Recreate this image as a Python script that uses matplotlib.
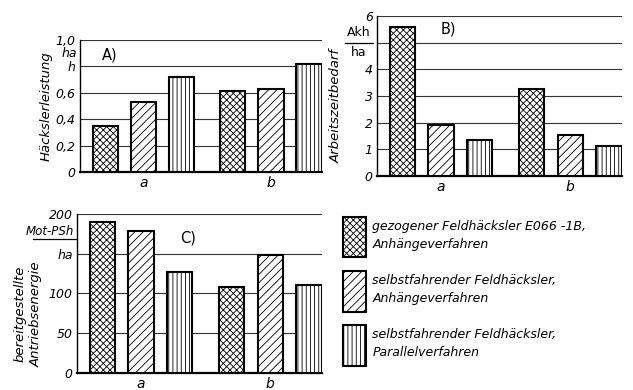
import matplotlib
matplotlib.use("Agg")
import matplotlib.pyplot as plt
import matplotlib.transforms as mtransforms
from matplotlib.lines import Line2D
from matplotlib.patches import Patch

plt.rcParams['font.family'] = ['DejaVu Sans']
plt.rcParams['font.style'] = 'italic'
plt.rcParams['font.size'] = 9
plt.rcParams['hatch.linewidth'] = 0.6

# data (rows = series, columns = categories a, b)
categories = ['a', 'b']
series_labels = ['gezogener Feldhäcksler E066 -1B,\nAnhängeverfahren',
                 'selbstfahrender Feldhäcksler,\nAnhängeverfahren',
                 'selbstfahrender Feldhäcksler,\nParallelverfahren']
hatches = ['xxxxx', '////', '||||']

leistung = [[0.35, 0.61], [0.53, 0.63], [0.72, 0.82]]       # ha/h
zeitbedarf = [[5.58, 3.26], [1.91, 1.54], [1.35, 1.12]]     # Akh/ha
energie = [[190, 108], [179, 149], [127, 111]]              # Mot-PSh/ha

ticks_a = [0, 0.2, 0.4, 0.6, 0.8, 1.0]
ticklabels_a = ['0', '0,2', '0,4', '0,6', 'h', '1,0']
ticks_b = [0, 1, 2, 3, 4, 5, 6]
ticklabels_b = ['0', '1', '2', '3', '4', '', '6']
ticks_c = [0, 50, 100, 150, 200]
ticklabels_c = ['0', '50', '100', 'ha', '200']

group_step = 3.35
bar_w = 0.66

fig = plt.figure(figsize=(6.33, 3.9), dpi=100)
axA = fig.add_axes([0.1264, 0.559, 0.3823, 0.3385])
axB = fig.add_axes([0.5956, 0.5487, 0.387, 0.410])
axC = fig.add_axes([0.1216, 0.0436, 0.387, 0.4077])


def draw_panel(ax, values, ticks, ticklabels, ymax, title, tx, ty):
    for i, row in enumerate(values):
        xs = [g * group_step + i for g in range(len(categories))]
        ax.bar(xs, row, width=bar_w, facecolor='white', edgecolor='black',
               linewidth=1.5, hatch=hatches[i], zorder=3)
    last = (len(categories) - 1) * group_step + len(values) - 1
    ax.set_xlim(-0.66, last + bar_w / 2 + 0.01)
    ax.set_ylim(0, ymax)
    ax.set_yticks(ticks)
    ax.set_yticklabels(ticklabels)
    ax.set_xticks([g * group_step + 1 for g in range(len(categories))])
    ax.set_xticklabels(categories, fontsize=10)
    ax.tick_params(length=0, pad=3)
    ax.tick_params(axis='x', pad=3)
    ax.yaxis.grid(True, color='#333333', linewidth=0.8, zorder=0)
    ax.set_axisbelow(True)
    for s in ['top', 'right']:
        ax.spines[s].set_visible(False)
    ax.spines['left'].set_linewidth(1.0)
    ax.spines['bottom'].set_linewidth(1.6)
    ax.text(tx, ty, title, transform=ax.transAxes, fontsize=10.5, fontstyle='normal')


draw_panel(axA, leistung, ticks_a, ticklabels_a, 1.0, 'A)', 0.09, 0.85)
draw_panel(axB, zeitbedarf, ticks_b, ticklabels_b, 6.0, 'B)', 0.26, 0.89)
draw_panel(axC, energie, ticks_c, ticklabels_c, 200, 'C)', 0.42, 0.82)

# axis titles
axA.set_ylabel('Häckslerleistung', fontsize=9.5)
axA.yaxis.set_label_coords(-0.115, 0.5)
axB.set_ylabel('Arbeitszeitbedarf', fontsize=9.5)
axB.yaxis.set_label_coords(-0.14, 0.44)
axC.set_ylabel('bereitgestellte\nAntriebsenergie', fontsize=9.5, linespacing=1.3)
axC.yaxis.set_label_coords(-0.14, 0.37)

# units
trA = mtransforms.blended_transform_factory(axA.transAxes, axA.transData)
axA.text(-0.012, 0.895, 'ha', transform=trA, ha='right', va='center')

trB = mtransforms.blended_transform_factory(axB.transAxes, axB.transData)
axB.text(-0.073, 5.38, 'Akh', transform=trB, ha='center', va='center', fontstyle='normal')
axB.text(-0.073, 4.62, 'ha', transform=trB, ha='center', va='center', fontstyle='normal')
axB.add_line(Line2D([-0.13, -0.016], [5.0, 5.0], transform=trB, color='black',
                    linewidth=0.9, clip_on=False))

trC = mtransforms.blended_transform_factory(axC.transAxes, axC.transData)
axC.text(-0.012, 178, 'Mot-PSh', transform=trC, ha='right', va='center', fontsize=8.5)
axC.add_line(Line2D([-0.18, -0.005], [169, 169], transform=trC, color='black',
                    linewidth=0.9, clip_on=False))

# legend
handles = [Patch(facecolor='white', edgecolor='black', linewidth=1.5, hatch=h)
           for h in hatches]
leg = fig.legend(handles, series_labels, loc='upper left',
                 bbox_to_anchor=(343 / 633, 1 - 217 / 390), frameon=False,
                 borderpad=0, borderaxespad=0, handlelength=1.85, handleheight=4.6,
                 handletextpad=0.5, labelspacing=1.1, fontsize=9)
for t in leg.get_texts():
    t.set_linespacing(1.55)

fig.savefig('out.png', dpi=100)
